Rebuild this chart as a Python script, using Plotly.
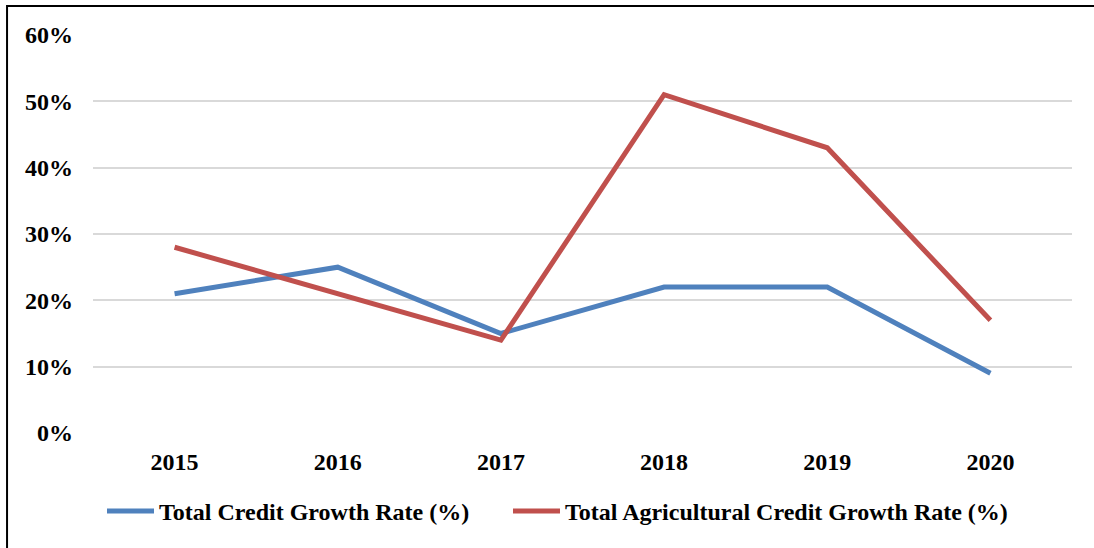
import plotly.graph_objects as go

years = ["2015", "2016", "2017", "2018", "2019", "2020"]
total_credit = [0.21, 0.25, 0.15, 0.22, 0.22, 0.09]
agri_credit = [0.28, 0.21, 0.14, 0.51, 0.43, 0.17]
y_ticks = [0, 0.1, 0.2, 0.3, 0.4, 0.5, 0.6]

font_family = "Liberation Serif, Times New Roman, serif"
FS = 24

fig = go.Figure()
fig.add_trace(go.Scatter(x=years, y=total_credit, mode="lines",
                         name="<b>Total Credit Growth Rate (%)</b>",
                         line=dict(color="#4F81BD", width=5), legend="legend"))
fig.add_trace(go.Scatter(x=years, y=agri_credit, mode="lines",
                         name="<b>Total Agricultural Credit Growth Rate (%)</b>",
                         line=dict(color="#C0504D", width=5), legend="legend2"))

leg_common = dict(orientation="h", xanchor="left", y=-0.197, yanchor="middle",
                  font=dict(family=font_family, size=FS, color="black"),
                  itemwidth=47, bgcolor="rgba(0,0,0,0)")

fig.update_layout(
    width=1094, height=548,
    margin=dict(l=93, r=22, t=35, b=115),
    paper_bgcolor="white", plot_bgcolor="white",
    font=dict(family=font_family, size=FS, color="black"),
    showlegend=True,
    legend=dict(x=0.0092, **leg_common),
    legend2=dict(x=0.4239, **leg_common),
    xaxis=dict(type="category", range=[-0.5, 5.5], showgrid=False, showline=False,
               zeroline=False,
               tickfont=dict(family=font_family, size=FS, color="black"),
               ticks="", ticklabelstandoff=12,
               tickvals=years, ticktext=[f"<b>{y}</b>" for y in years]),
    yaxis=dict(range=[0, 0.6], tickvals=y_ticks,
               ticktext=[f"<b>{int(round(v*100))}%</b>" for v in y_ticks],
               showgrid=True, gridcolor="#D9D9D9", gridwidth=2,
               zeroline=False, showline=False, ticks="", ticklabelstandoff=19,
               tickfont=dict(family=font_family, size=FS, color="black")),
    shapes=[dict(type="rect", xref="paper", yref="paper",
                 x0=-0.0878, x1=1.05, y0=-0.4, y1=1.073,
                 line=dict(color="black", width=2), fillcolor="rgba(0,0,0,0)",
                 layer="below")],
)

fig.write_html("out.html", config={"displayModeBar": False},
               post_script="document.body.style.margin='0';")
